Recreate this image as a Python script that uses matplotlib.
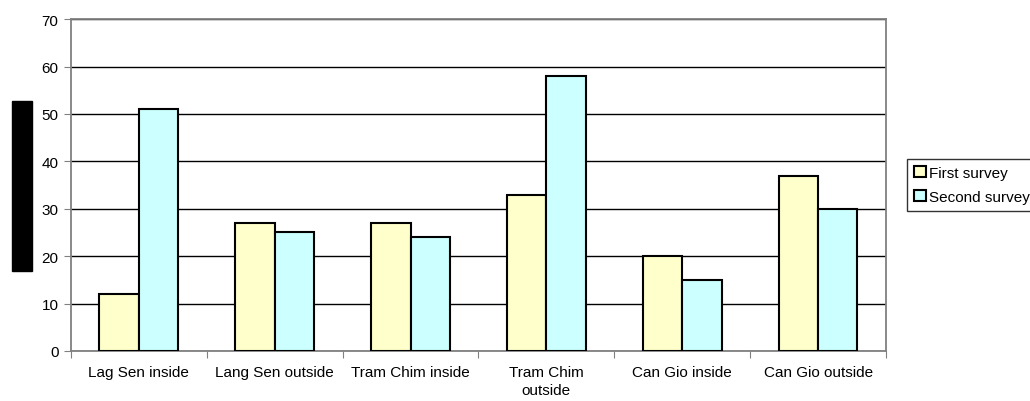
import numpy as np
import matplotlib
matplotlib.use("Agg")
import matplotlib.pyplot as plt
from matplotlib.patches import Rectangle

plt.rcParams["font.family"] = ["Liberation Sans", "DejaVu Sans"]

sites = ["Lag Sen inside", "Lang Sen outside", "Tram Chim inside",
         "Tram Chim\noutside", "Can Gio inside", "Can Gio outside"]
first_survey = [12, 27, 27, 33, 20, 37]
second_survey = [51, 25, 24, 58, 15, 30]

fig = plt.figure(figsize=(10.3, 4.02), dpi=100)
ax = fig.add_axes([0.0689, 0.1244, 0.7913, 0.8256])

x = np.arange(len(sites))
w = 0.29
ax.bar(x - w / 2, first_survey, w, color="#FFFFCC", edgecolor="black",
       linewidth=1.5, label="First survey", zorder=3)
ax.bar(x + w / 2, second_survey, w, color="#CCFFFF", edgecolor="black",
       linewidth=1.5, label="Second survey", zorder=3)

ax.set_xlim(-0.5, len(sites) - 0.5)
ax.set_ylim(0, 70)
ax.set_yticks(range(0, 71, 10))
ax.yaxis.grid(True, color="black", linewidth=1)
ax.set_axisbelow(True)

# category labels sit between the boundary ticks
ax.set_xticks(np.arange(len(sites) + 1) - 0.5)
ax.set_xticklabels([])
ax.set_xticks(x, minor=True)
ax.set_xticklabels(sites, minor=True, fontsize=11, linespacing=1.35)
ax.tick_params(axis="x", which="minor", length=0, pad=10)
ax.tick_params(axis="x", which="major", length=5, color="#808080")
ax.tick_params(axis="y", length=5, color="#808080", labelsize=11, pad=4)

for side in ["left", "bottom", "top", "right"]:
    ax.spines[side].set_color("#808080")
    ax.spines[side].set_linewidth(1.3)

leg = ax.legend(loc="upper left", bbox_to_anchor=(907 / 1030, 1 - 160 / 402),
                bbox_transform=fig.transFigure, frameon=True, fancybox=False,
                edgecolor="black", fontsize=11, handlelength=0.8,
                handleheight=0.75, handletextpad=0.2, borderpad=0.45,
                labelspacing=0.65, borderaxespad=0)
leg.get_frame().set_linewidth(1)

# redacted axis title block
fig.patches.append(Rectangle((12 / 1030, 1 - 272 / 402), 20 / 1030, 170 / 402,
                             transform=fig.transFigure, color="black"))

fig.savefig("out.png", dpi=100)
